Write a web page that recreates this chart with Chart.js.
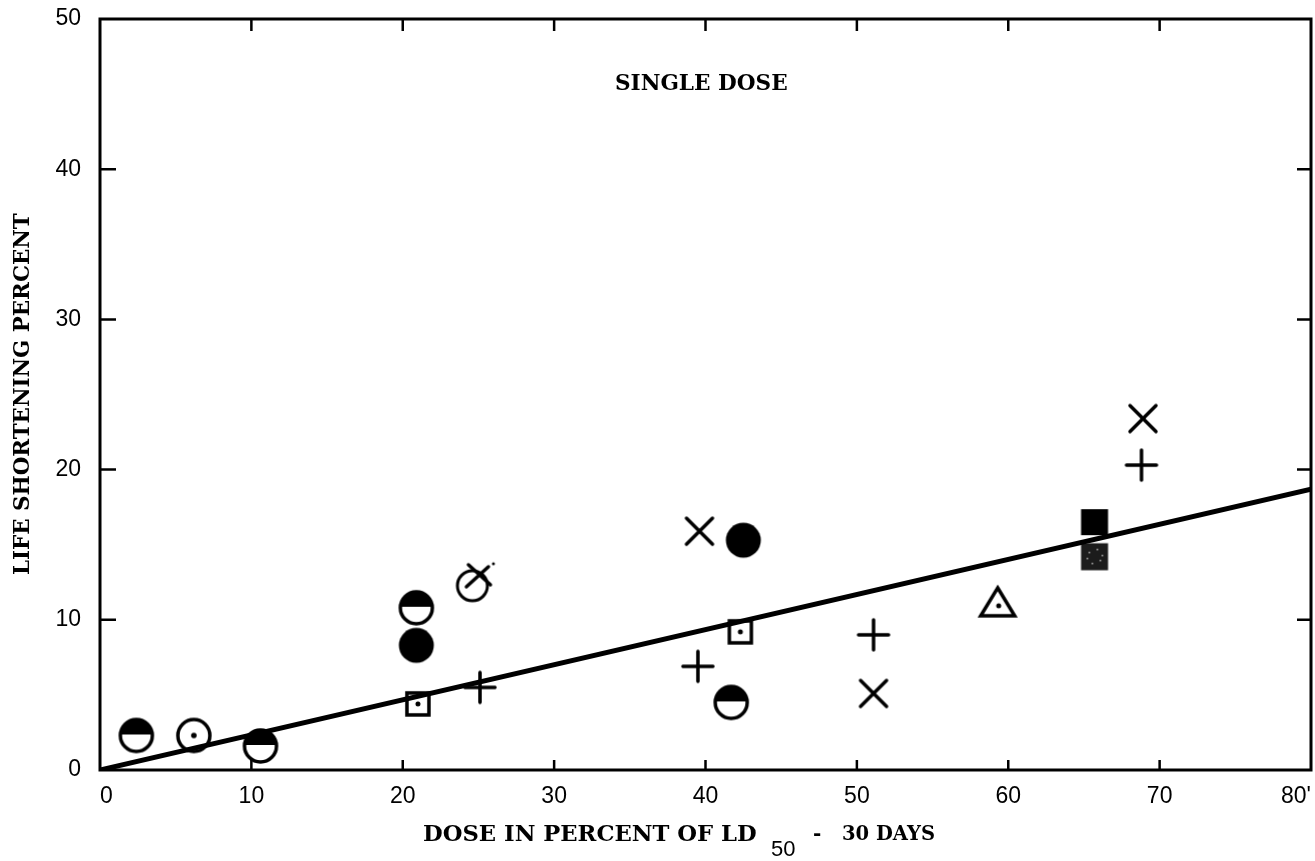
<!DOCTYPE html>
<html>
<head>
<meta charset="utf-8">
<script src="https://cdn.jsdelivr.net/npm/chart.js@4"></script>
<style>
  body { margin: 0; background: #fff; }
  #wrap { width: 1315px; height: 861px; }
</style>
</head>
<body>
<div id="wrap"><canvas id="chart" width="1315" height="861"></canvas></div>
<script>
// Values, one pair of arrays per marker symbol
var halfFilledX = [2.4, 10.6, 20.9, 41.7];
var halfFilledY = [2.3, 1.6, 10.8, 4.5];
var circleDotX = [6.2];
var circleDotY = [2.3];
var filledCircleX = [20.9, 42.5];
var filledCircleY = [8.3, 15.3];
var squareDotX = [21.0, 42.3];
var squareDotY = [4.4, 9.2];
var circleCrossX = [24.8];
var circleCrossY = [12.6];
var plusX = [25.1, 39.5, 51.1, 68.8];
var plusY = [5.5, 6.9, 9.0, 20.3];
var crossX = [39.6, 51.1, 68.9];
var crossY = [15.9, 5.1, 23.4];
var triangleDotX = [59.3];
var triangleDotY = [11.2];
var filledSquareX = [65.7];
var filledSquareY = [16.5];
var greySquareX = [65.7];
var greySquareY = [14.2];
// fitted line
var lineX = [0, 80];
var lineY = [0, 18.7];

var xTicks = [0, 10, 20, 30, 40, 50, 60, 70, 80];
var yTicks = [0, 10, 20, 30, 40, 50];

var serif = '"DejaVu Serif"';

function pairs(xs, ys) {
    return xs.map(function (x, i) { return {x: x, y: ys[i]}; });
}

// Builds a small canvas used as a point image
function marker(size, draw) {
    var c = document.createElement('canvas');
    c.width = size; c.height = size;
    var g = c.getContext('2d');
    g.strokeStyle = '#000';
    g.fillStyle = '#000';
    g.lineWidth = 3.5;
    g.lineCap = 'round';
    draw(g, size / 2);
    return c;
}

var halfFilledImg = marker(42, function (g, m) {
    g.beginPath(); g.arc(m, m - 1, 16, Math.PI, 0); g.closePath(); g.fill();
    g.beginPath(); g.arc(m, m, 16, 0, Math.PI * 2); g.stroke();
});
var circleDotImg = marker(42, function (g, m) {
    g.beginPath(); g.arc(m, m, 16, 0, Math.PI * 2); g.stroke();
    g.beginPath(); g.arc(m, m, 2.8, 0, Math.PI * 2); g.fill();
});
var filledCircleImg = marker(42, function (g, m) {
    g.beginPath(); g.arc(m, m, 17.5, 0, Math.PI * 2); g.fill();
});
var squareDotImg = marker(32, function (g, m) {
    g.lineCap = 'butt';
    g.strokeRect(m - 11, m - 11, 22, 22);
    g.beginPath(); g.arc(m, m, 2.5, 0, Math.PI * 2); g.fill();
});
var circleCrossImg = marker(60, function (g, m) {
    g.lineWidth = 3;
    g.beginPath(); g.arc(m - 3, m + 5, 15, 0, Math.PI * 2); g.stroke();
    g.lineWidth = 3.5;
    g.beginPath();
    g.moveTo(m - 7, m - 16); g.lineTo(m + 15, m + 4);
    g.moveTo(m - 9, m + 6); g.lineTo(m + 13, m - 14);
    g.stroke();
    g.beginPath(); g.arc(m + 18, m - 17, 1.5, 0, Math.PI * 2); g.fill();
});
var plusImg = marker(38, function (g, m) {
    g.beginPath();
    g.moveTo(m - 15, m); g.lineTo(m + 15, m);
    g.moveTo(m, m - 15); g.lineTo(m, m + 15);
    g.stroke();
});
var crossImg = marker(34, function (g, m) {
    g.beginPath();
    g.moveTo(m - 13, m - 13); g.lineTo(m + 13, m + 13);
    g.moveTo(m + 13, m - 13); g.lineTo(m - 13, m + 13);
    g.stroke();
});
var triangleDotImg = marker(44, function (g, m) {
    g.lineJoin = 'miter';
    g.beginPath();
    g.moveTo(m, m - 14); g.lineTo(m + 17, m + 14); g.lineTo(m - 17, m + 14);
    g.closePath(); g.stroke();
    g.beginPath(); g.arc(m + 1, m + 4, 2.5, 0, Math.PI * 2); g.fill();
});
var filledSquareImg = marker(32, function (g, m) {
    g.fillRect(m - 13.5, m - 13, 27, 26);
});
var greySquareImg = marker(32, function (g, m) {
    g.fillStyle = '#1c1c1c';
    g.fillRect(m - 13.5, m - 13.5, 27, 27);
    g.fillStyle = '#bbb';
    [[-6, -5], [2, -8], [5, 3], [-3, 6], [-8, 1], [7, -2]].forEach(function (p) {
        g.fillRect(m + p[0], m + p[1], 1.5, 1.5);
    });
});

function pointSet(xs, ys, img) {
    return {
        data: pairs(xs, ys),
        pointStyle: img,
        pointRadius: 10,
        pointHoverRadius: 10,
        showLine: false
    };
}

// picks the font size that makes the text the given width
function fitText(ctx, text, x, y, width) {
    ctx.font = 'bold 20px ' + serif;
    var size = 20 * width / ctx.measureText(text).width;
    ctx.font = 'bold ' + size.toFixed(1) + 'px ' + serif;
    ctx.fillText(text, x, y);
}

// Frame, inward ticks and free-standing texts
var framePlugin = {
    id: 'frame',
    afterDraw: function (chart) {
        var ctx = chart.ctx, a = chart.chartArea;
        var xs = chart.scales.x, ys = chart.scales.y;
        ctx.save();
        ctx.strokeStyle = '#000';
        ctx.lineWidth = 3;
        ctx.strokeRect(a.left, a.top, a.right - a.left, a.bottom - a.top);
        ctx.lineWidth = 2.5;
        ctx.beginPath();
        xTicks.forEach(function (v) {
            if (v === 0 || v === 80) return;
            var px = xs.getPixelForValue(v);
            ctx.moveTo(px, a.top); ctx.lineTo(px, a.top + 12);
            ctx.moveTo(px, a.bottom); ctx.lineTo(px, a.bottom - 10);
        });
        yTicks.forEach(function (v) {
            if (v === 0 || v === 50) return;
            var py = ys.getPixelForValue(v);
            ctx.moveTo(a.left, py); ctx.lineTo(a.left + 16, py);
            ctx.moveTo(a.right, py); ctx.lineTo(a.right - 14, py);
        });
        ctx.stroke();

        ctx.fillStyle = '#000';
        ctx.textBaseline = 'middle';
        ctx.textAlign = 'left';
        fitText(ctx, 'SINGLE DOSE', 615, 84, 173);

        // x axis title with subscript
        fitText(ctx, 'DOSE IN PERCENT OF LD', 423, 835, 334);
        ctx.font = '22px "Liberation Sans"';
        ctx.fillText('50', 771, 850);
        ctx.font = 'bold 20px ' + serif;
        ctx.fillText('-', 813, 835);
        fitText(ctx, '30 DAYS', 842, 835, 93);

        // y axis title
        ctx.translate(23, 394);
        ctx.rotate(-Math.PI / 2);
        fitText(ctx, 'LIFE SHORTENING PERCENT', -181, 0, 362);
        ctx.restore();
    }
};

function noPad(s) {
    s.paddingLeft = 0; s.paddingRight = 0;
    s.paddingTop = 0; s.paddingBottom = 0;
}

new Chart(document.getElementById('chart'), {
    type: 'scatter',
    data: {
        datasets: [
            {
                data: pairs(lineX, lineY),
                showLine: true,
                borderColor: '#000',
                borderWidth: 5,
                pointRadius: 0,
                pointHoverRadius: 0
            },
            pointSet(halfFilledX, halfFilledY, halfFilledImg),
            pointSet(circleDotX, circleDotY, circleDotImg),
            pointSet(filledCircleX, filledCircleY, filledCircleImg),
            pointSet(squareDotX, squareDotY, squareDotImg),
            pointSet(circleCrossX, circleCrossY, circleCrossImg),
            pointSet(plusX, plusY, plusImg),
            pointSet(crossX, crossY, crossImg),
            pointSet(triangleDotX, triangleDotY, triangleDotImg),
            pointSet(filledSquareX, filledSquareY, filledSquareImg),
            pointSet(greySquareX, greySquareY, greySquareImg)
        ]
    },
    options: {
        responsive: false,
        animation: false,
        layout: { autoPadding: false, padding: { top: 19, right: 4, left: 0, bottom: 0 } },
        plugins: {
            legend: { display: false },
            tooltip: { enabled: false }
        },
        scales: {
            x: {
                type: 'linear',
                min: 0, max: 80,
                afterFit: function (s) { s.height = 91; noPad(s); },
                afterBuildTicks: function (s) { s.ticks = xTicks.map(function (v) { return {value: v}; }); },
                grid: { display: false },
                border: { display: false },
                ticks: {
                    padding: 5,
                    maxRotation: 0,
                    align: 'inner',
                    color: '#000',
                    font: { family: 'Liberation Sans', size: 23 },
                    callback: function (v) { return v === 80 ? "80'" : String(v); }
                }
            },
            y: {
                type: 'linear',
                min: 0, max: 50,
                afterFit: function (s) { s.width = 100; noPad(s); },
                afterBuildTicks: function (s) { s.ticks = yTicks.map(function (v) { return {value: v}; }); },
                grid: { display: false },
                border: { display: false },
                ticks: {
                    padding: 11,
                    color: '#000',
                    font: { family: 'Liberation Sans', size: 23 }
                }
            }
        }
    },
    plugins: [framePlugin]
});
</script>
</body>
</html>
